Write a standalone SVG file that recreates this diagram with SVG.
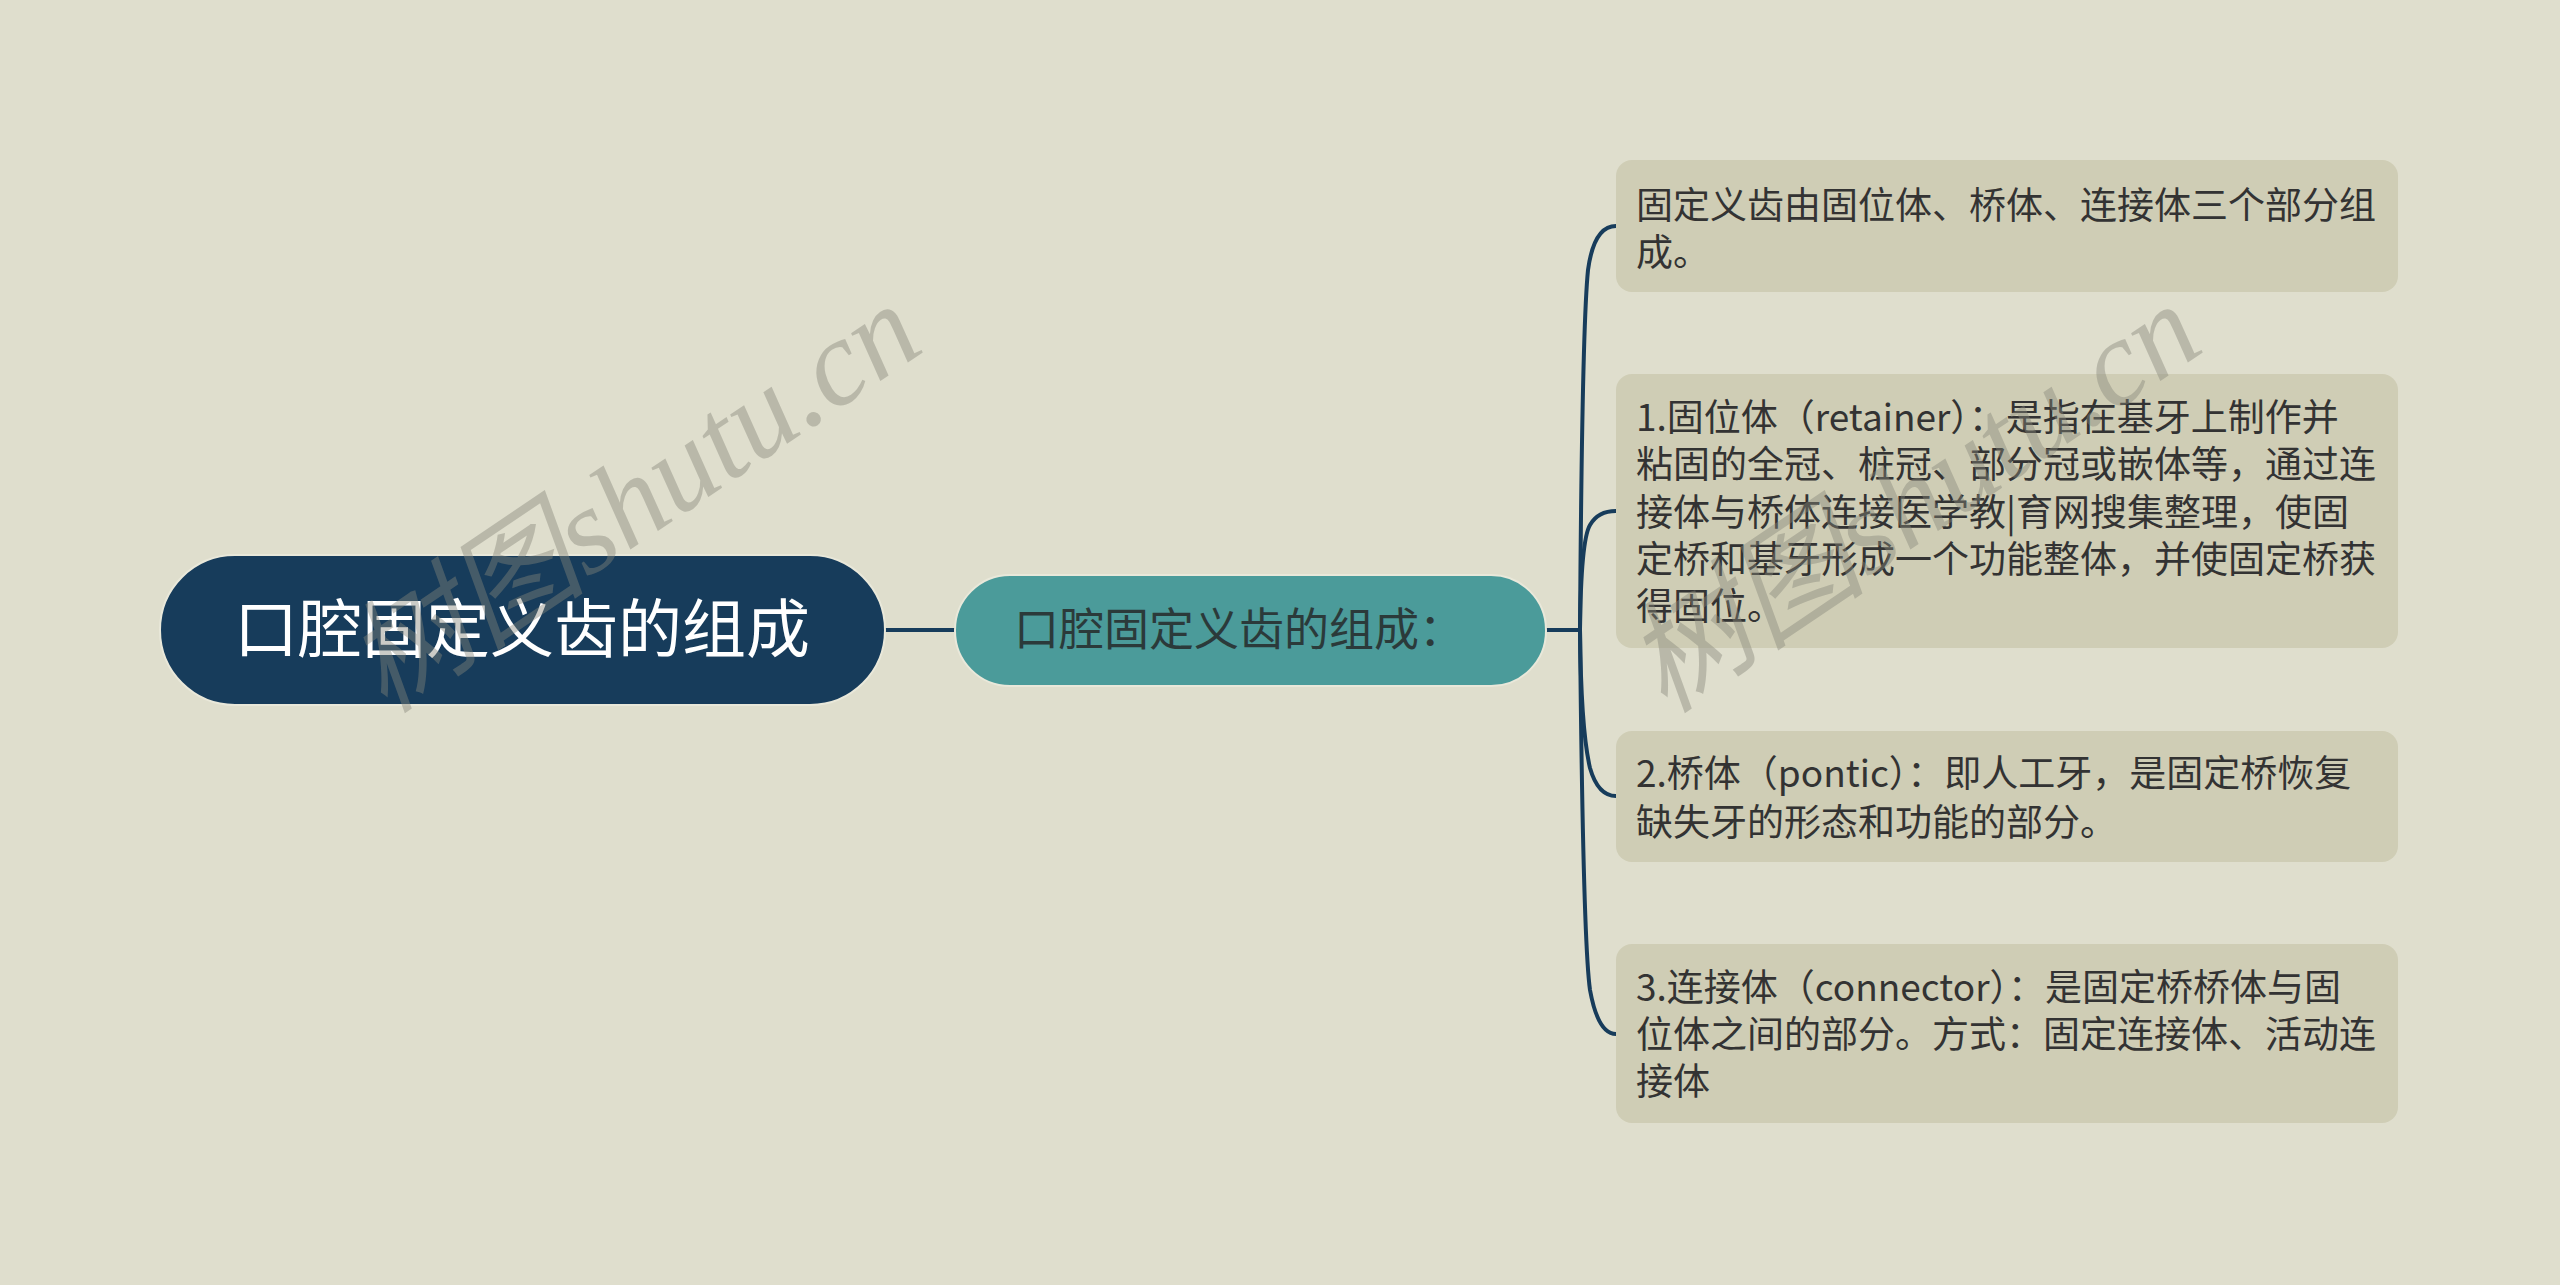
<svg xmlns="http://www.w3.org/2000/svg" width="2560" height="1285" viewBox="0 0 2560 1285">
<style>
.leaf{fill:#cfcdb5;}
.lt{font-family:"Noto Sans CJK SC","Noto Sans",sans-serif;font-size:37px;fill:#333333;}
.con{fill:none;stroke:#173c5b;stroke-width:4;}
.wm{font-family:"Liberation Serif","Noto Sans CJK SC",serif;font-style:italic;font-size:122px;fill:#86867a;opacity:0.42;}
</style>
<rect x="0" y="0" width="2560" height="1285" fill="#dfdecd"/>
<g id="connectors">
<path class="con" d="M885 630 L955 630"/>
<path class="con" d="M1546 630 L1580 630"/>
<path class="con" d="M1580 630 Q1582 330 1588 270 Q1594 226 1616 226"/>
<path class="con" d="M1580 630 Q1581 540 1590 525 Q1598 511 1616 511"/>
<path class="con" d="M1580 630 Q1581 730 1590 768 Q1598 796 1616 796"/>
<path class="con" d="M1580 630 Q1583 940 1590 990 Q1598 1034 1616 1034"/>
</g>
<g id="root">
<rect x="160" y="555" width="725" height="150" rx="75" fill="#173c5b" stroke="#e9e8da" stroke-width="2"/>
<text x="522" y="652" text-anchor="middle" font-family="Noto Sans CJK SC, sans-serif" font-size="64" fill="#ffffff">口腔固定义齿的组成</text>
</g>
<g id="main">
<rect x="955" y="575" width="591" height="111" rx="55" fill="#4b9b9a" stroke="#e9e8da" stroke-width="2"/>
<text x="1014" y="646" font-family="Noto Sans CJK SC, sans-serif" font-size="45" fill="#2b3a3a">口腔固定义齿的组成：</text>
</g>
<g id="leaf1">
<rect class="leaf" x="1616" y="160" width="782" height="132" rx="16"/>
<text class="lt" x="1636" y="219">固定义齿由固位体、桥体、连接体三个部分组</text>
<text class="lt" x="1636" y="266">成。</text>
</g>
<g id="leaf2">
<rect class="leaf" x="1616" y="374" width="782" height="274" rx="16"/>
<text class="lt" x="1636" y="431">1.固位体（retainer）：是指在基牙上制作并</text>
<text class="lt" x="1636" y="478">粘固的全冠、桩冠、部分冠或嵌体等，通过连</text>
<text class="lt" x="1636" y="526">接体与桥体连接医学教|育网搜集整理，使固</text>
<text class="lt" x="1636" y="573">定桥和基牙形成一个功能整体，并使固定桥获</text>
<text class="lt" x="1636" y="620">得固位。</text>
</g>
<g id="leaf3">
<rect class="leaf" x="1616" y="731" width="782" height="131" rx="16"/>
<text class="lt" x="1636" y="787">2.桥体（pontic）：即人工牙，是固定桥恢复</text>
<text class="lt" x="1636" y="836">缺失牙的形态和功能的部分。</text>
</g>
<g id="leaf4">
<rect class="leaf" x="1616" y="944" width="782" height="179" rx="16"/>
<text class="lt" x="1636" y="1001">3.连接体（connector）：是固定桥桥体与固</text>
<text class="lt" x="1636" y="1048">位体之间的部分。方式：固定连接体、活动连</text>
<text class="lt" x="1636" y="1095">接体</text>
</g>
<g id="watermark">
<text class="wm" transform="translate(385 715) rotate(-34)">树图shutu.cn</text>
<text class="wm" transform="translate(1665 715) rotate(-34)">树图shutu.cn</text>
</g>
</svg>
